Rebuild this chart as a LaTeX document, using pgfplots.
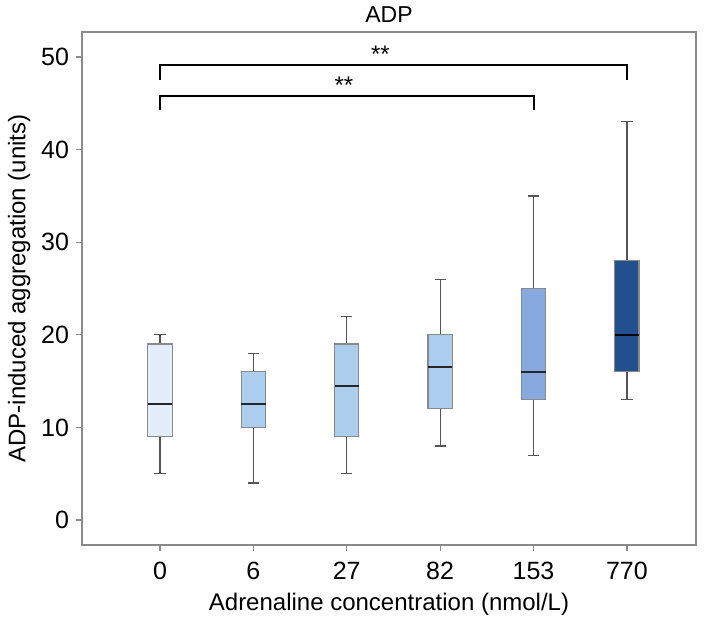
\documentclass[border=0pt]{standalone}
\usepackage{pgfplots}
\pgfplotsset{compat=1.18}
\usepgfplotslibrary{statistics}
\usepackage{fontspec}
\setmainfont{Liberation Sans}
\definecolor{boxA}{HTML}{E2EEF9}
\definecolor{boxB}{HTML}{ABCDEE}
\definecolor{boxC}{HTML}{87A9E0}
\definecolor{boxD}{HTML}{22508F}
\definecolor{frame}{HTML}{8A8A8A}
\definecolor{whisk}{HTML}{555555}
\begin{document}
\begin{tikzpicture}
\begin{axis}[
  name=ax,
  scale only axis,
  width=307pt, height=256.5pt,
  xmin=-0.835, xmax=5.74,
  ymin=-2.7, ymax=52.7,
  xtick={0,1,2,3,4,5},
  xticklabels={0,6,27,82,153,770},
  ytick={0,10,20,30,40,50},
  tick align=outside,
  major tick length=3pt,
  xtick pos=bottom, ytick pos=left,
  axis line style={frame, line width=0.6pt},
  tick style={frame, line width=0.6pt},
  ticklabel style={font=\fontsize{12.5}{14}\selectfont},
  xticklabel style={yshift=-2pt},
  /pgf/number format/assume math mode=true,
  label style={font=\fontsize{12}{14}\selectfont},
  xlabel={Adrenaline concentration (nmol/L)},
  ylabel={ADP-induced aggregation (units)},
  xlabel style={yshift=0pt},
  ylabel style={yshift=-1.5pt},
  clip=false,
  boxplot/draw direction=y,
  boxplot/box extend=0.26,
  boxplot/whisker extend=0.12,
  boxplot/every box/.style={draw=frame, line width=0.6pt},
  boxplot/every whisker/.style={draw=whisk, line width=0.6pt},
  boxplot/every median/.style={draw=black!85, line width=1pt},
]
\addplot[fill=boxA, boxplot prepared={draw position=0, lower whisker=5, lower quartile=9, median=12.5, upper quartile=19, upper whisker=20}] coordinates {};
\addplot[fill=boxB, boxplot prepared={draw position=1, lower whisker=4, lower quartile=10, median=12.5, upper quartile=16, upper whisker=18}] coordinates {};
\addplot[fill=boxB, boxplot prepared={draw position=2, lower whisker=5, lower quartile=9, median=14.5, upper quartile=19, upper whisker=22}] coordinates {};
\addplot[fill=boxB, boxplot prepared={draw position=3, lower whisker=8, lower quartile=12, median=16.5, upper quartile=20, upper whisker=26}] coordinates {};
\addplot[fill=boxC, boxplot prepared={draw position=4, lower whisker=7, lower quartile=13, median=16, upper quartile=25, upper whisker=35}] coordinates {};
\addplot[fill=boxD, boxplot prepared={draw position=5, lower whisker=13, lower quartile=16, median=20, upper quartile=28, upper whisker=43}, boxplot/every median/.style={draw=black, line width=1pt}] coordinates {};
% significance brackets
\addplot[black, line width=1pt, mark=none] coordinates {(0,47.5) (0,49.1) (5,49.1) (5,47.5)};
\addplot[black, line width=1pt, mark=none] coordinates {(0,44.3) (0,45.8) (4,45.8) (4,44.3)};
\node[font=\fontsize{12}{14}\selectfont] at (axis cs:2.36,50.3) {**};
\node[font=\fontsize{12}{14}\selectfont] at (axis cs:1.97,47.0) {**};
\node[font=\fontsize{11.5}{13}\selectfont, anchor=south, inner sep=0pt] at ([yshift=4.5pt]rel axis cs:0.5,1) {ADP};
\end{axis}
\pgfresetboundingbox
\path[use as bounding box] ([xshift=-41pt,yshift=-36pt]ax.south west) rectangle ([xshift=6.5pt,yshift=16pt]ax.north east);
\end{tikzpicture}
\end{document}
